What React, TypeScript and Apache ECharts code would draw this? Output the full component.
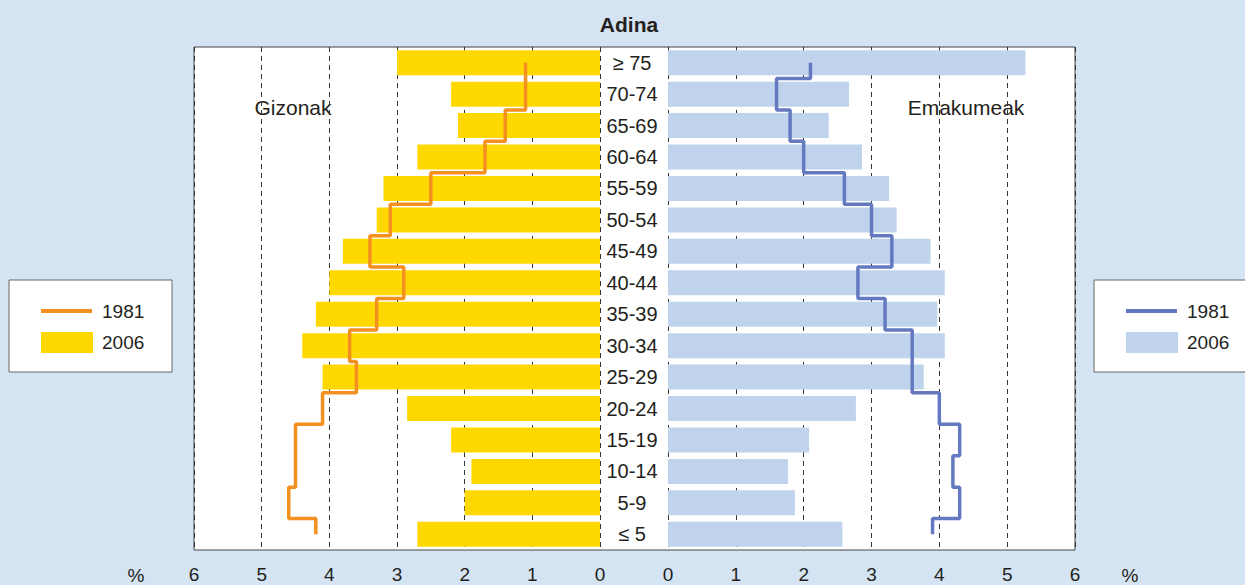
import React, { useEffect, useRef } from "react";
import * as echarts from "echarts";

const categories = ["≤ 5", "5-9", "10-14", "15-19", "20-24", "25-29", "30-34", "35-39", "40-44", "45-49", "50-54", "55-59", "60-64", "65-69", "70-74", "≥ 75"];
const men2006 = [2.7, 2.0, 1.9, 2.2, 2.85, 4.1, 4.4, 4.2, 4.0, 3.8, 3.3, 3.2, 2.7, 2.1, 2.2, 3.0];
const men1981 = [4.2, 4.6, 4.5, 4.5, 4.1, 3.6, 3.7, 3.3, 2.9, 3.4, 3.1, 2.5, 1.7, 1.4, 1.1, 1.1];
const women2006 = [2.57, 1.87, 1.77, 2.08, 2.77, 3.77, 4.08, 3.97, 4.08, 3.87, 3.37, 3.26, 2.86, 2.37, 2.67, 5.27];
const women1981 = [3.9, 4.3, 4.2, 4.3, 4.0, 3.6, 3.6, 3.2, 2.8, 3.3, 3.0, 2.6, 2.0, 1.8, 1.6, 2.1];
const legendYears = ["1981", "2006"];

const FONT = "'Liberation Sans', Arial, sans-serif";
const TXT = "#231f20";
const ORANGE = "#f39020";
const YELLOW = "#ffd800";
const BLUE = "#6579c0";
const LIGHTBLUE = "#bfd3ec";

function legendBox(x: number, lineColor: string, barColor: string) {
  return [
    { type: "rect", shape: { x: x, y: 280, width: 163, height: 92 }, style: { fill: "#fff", stroke: "#666", lineWidth: 1 } },
    { type: "line", shape: { x1: x + 32, y1: 311, x2: x + 83, y2: 311 }, style: { stroke: lineColor, lineWidth: 4 } },
    { type: "rect", shape: { x: x + 32, y: 332, width: 52, height: 21 }, style: { fill: barColor } },
    { type: "text", x: x + 93, y: 311, style: { text: legendYears[0], font: `19px ${FONT}`, fill: TXT, textVerticalAlign: "middle", verticalAlign: "middle" } },
    { type: "text", x: x + 93, y: 342, style: { text: legendYears[1], font: `19px ${FONT}`, fill: TXT, textVerticalAlign: "middle", verticalAlign: "middle" } },
  ];
}

export default function App() {
  const ref = useRef<HTMLDivElement>(null);
  useEffect(() => {
    if (!ref.current) return;
    const chart = echarts.init(ref.current, null, { renderer: "svg" });
    const splitLine = { show: true, lineStyle: { color: "#333", width: 1, type: [5, 4] } };
    const xAxisBase = {
      type: "value",
      min: 0,
      max: 6,
      interval: 1,
      axisLine: { show: false },
      axisTick: { show: false },
      splitLine,
      axisLabel: { color: TXT, fontSize: 19, fontFamily: FONT, margin: 15, showMinLabel: true, showMaxLabel: true },
    };
    const centered = { align: "center", textAlign: "center", verticalAlign: "middle", textVerticalAlign: "middle" };
    chart.setOption({
      animation: false,
      backgroundColor: "#d4e4f3",
      textStyle: { fontFamily: FONT },
      grid: [
        { left: 194, width: 406, top: 47, height: 503 },
        { left: 668, width: 407, top: 47, height: 503 },
      ],
      xAxis: [
        { ...xAxisBase, gridIndex: 0, inverse: true },
        { ...xAxisBase, gridIndex: 1 },
      ],
      yAxis: [
        {
          type: "category",
          gridIndex: 0,
          data: categories,
          position: "right",
          axisLine: { show: false },
          axisTick: { show: false },
          axisLabel: { color: TXT, fontSize: 20, fontFamily: FONT, align: "center", margin: 32 },
        },
        {
          type: "category",
          gridIndex: 1,
          data: categories,
          axisLine: { show: false },
          axisTick: { show: false },
          axisLabel: { show: false },
        },
      ],
      graphic: [
        { type: "rect", z: -100, shape: { x: 194, y: 47, width: 881, height: 503 }, style: { fill: "#fff", stroke: "#444", lineWidth: 1 } },
        { type: "text", x: 629, y: 24, style: { text: "Adina", font: `bold 21px ${FONT}`, fill: TXT, ...centered } },
        { type: "text", x: 293, y: 107, style: { text: "Gizonak", font: `21px ${FONT}`, fill: TXT, ...centered } },
        { type: "text", x: 966, y: 107, style: { text: "Emakumeak", font: `21px ${FONT}`, fill: TXT, ...centered } },
        { type: "text", x: 136, y: 575, style: { text: "%", font: `19px ${FONT}`, fill: TXT, ...centered } },
        { type: "text", x: 1130, y: 575, style: { text: "%", font: `19px ${FONT}`, fill: TXT, ...centered } },
        ...legendBox(9, ORANGE, YELLOW),
        ...legendBox(1094, BLUE, LIGHTBLUE),
      ],
      series: [
        { name: "Gizonak 2006", type: "bar", xAxisIndex: 0, yAxisIndex: 0, data: men2006, barWidth: 25, itemStyle: { color: YELLOW } },
        { name: "Gizonak 1981", type: "line", xAxisIndex: 0, yAxisIndex: 0, data: men1981, step: "middle", showSymbol: false, lineStyle: { color: ORANGE, width: 3.5 } },
        { name: "Emakumeak 2006", type: "bar", xAxisIndex: 1, yAxisIndex: 1, data: women2006, barWidth: 25, itemStyle: { color: LIGHTBLUE } },
        { name: "Emakumeak 1981", type: "line", xAxisIndex: 1, yAxisIndex: 1, data: women1981, step: "middle", showSymbol: false, lineStyle: { color: BLUE, width: 3.5 } },
      ],
    });
    return () => chart.dispose();
  }, []);
  return <div ref={ref} style={{ position: "fixed", left: 0, top: 0, width: 1245, height: 585 }} />;
}
